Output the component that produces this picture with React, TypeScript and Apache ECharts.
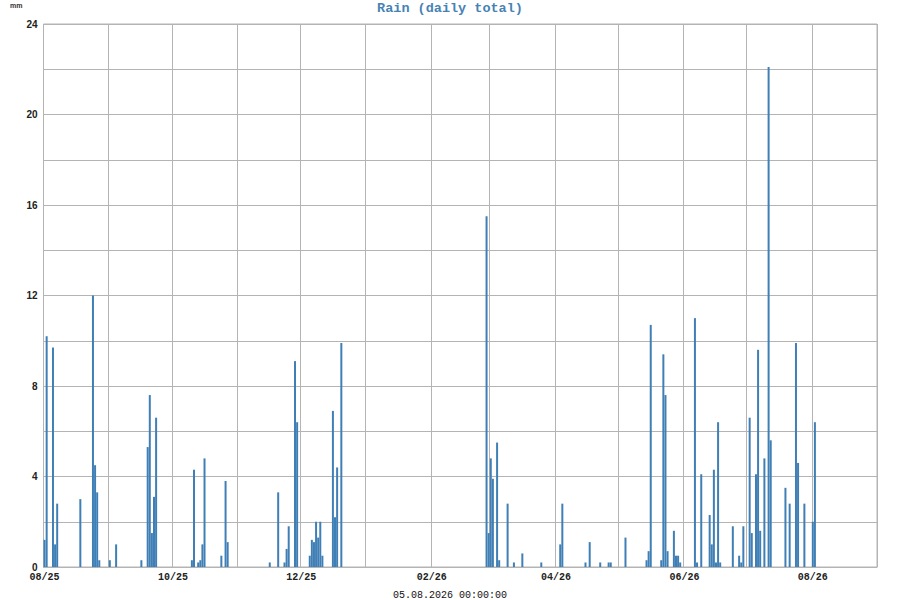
import React, { useEffect, useRef } from 'react';
import * as echarts from 'echarts';

// days with rain (mm), everything else is 0
const rainDays = [
  '2025-08-01', '2025-08-02', '2025-08-05', '2025-08-06', '2025-08-07', '2025-08-18',
  '2025-08-24', '2025-08-25', '2025-08-26', '2025-08-27', '2025-09-01', '2025-09-04',
  '2025-09-16', '2025-09-19', '2025-09-20', '2025-09-21', '2025-09-22', '2025-09-23',
  '2025-10-10', '2025-10-11', '2025-10-13', '2025-10-14', '2025-10-15', '2025-10-16',
  '2025-10-24', '2025-10-26', '2025-10-27', '2025-11-16', '2025-11-20', '2025-11-23',
  '2025-11-24', '2025-11-25', '2025-11-28', '2025-11-29', '2025-12-05', '2025-12-06',
  '2025-12-07', '2025-12-08', '2025-12-09', '2025-12-10', '2025-12-11', '2025-12-16',
  '2025-12-17', '2025-12-18', '2025-12-20', '2026-02-27', '2026-02-28', '2026-03-01',
  '2026-03-02', '2026-03-04', '2026-03-05', '2026-03-09', '2026-03-12', '2026-03-16',
  '2026-03-25', '2026-04-03', '2026-04-04', '2026-04-15', '2026-04-17', '2026-04-22',
  '2026-04-26', '2026-04-27', '2026-05-04', '2026-05-14', '2026-05-15', '2026-05-16',
  '2026-05-21', '2026-05-22', '2026-05-23', '2026-05-24', '2026-05-27', '2026-05-28',
  '2026-05-29', '2026-05-30', '2026-06-06', '2026-06-07', '2026-06-09', '2026-06-13',
  '2026-06-14', '2026-06-15', '2026-06-16', '2026-06-17', '2026-06-18', '2026-06-24',
  '2026-06-27', '2026-06-28', '2026-06-29', '2026-07-02', '2026-07-03', '2026-07-05',
  '2026-07-06', '2026-07-07', '2026-07-09', '2026-07-11', '2026-07-12', '2026-07-19',
  '2026-07-21', '2026-07-24', '2026-07-25', '2026-07-28', '2026-08-01', '2026-08-02',
];
const rainMm = [
  1.2, 10.2, 9.7, 1.0, 2.8, 3.0,
  12.0, 4.5, 3.3, 0.3, 0.3, 1.0,
  0.3, 5.3, 7.6, 1.5, 3.1, 6.6,
  0.3, 4.3, 0.2, 0.3, 1.0, 4.8,
  0.5, 3.8, 1.1, 0.2, 3.3, 0.2,
  0.8, 1.8, 9.1, 6.4, 0.5, 1.2,
  1.1, 2.0, 1.3, 2.0, 0.5, 6.9,
  2.2, 4.4, 9.9, 15.5, 1.5, 4.8,
  3.9, 5.5, 0.3, 2.8, 0.2, 0.6,
  0.2, 1.0, 2.8, 0.2, 1.1, 0.2,
  0.2, 0.2, 1.3, 0.3, 0.7, 10.7,
  0.3, 9.4, 7.6, 0.7, 1.6, 0.5,
  0.5, 0.2, 11.0, 0.2, 4.1, 2.3,
  1.0, 4.3, 0.2, 6.4, 0.2, 1.8,
  0.5, 0.2, 1.8, 6.6, 1.5, 4.1,
  9.6, 1.6, 4.8, 22.1, 5.6, 3.5,
  2.8, 9.9, 4.6, 2.8, 2.0, 6.4,
];
const firstDay = '2025-08-01';
const dayCount = 396; // 1 Aug 2025 .. 31 Aug 2026
const yTicks = [0, 4, 8, 12, 16, 20, 24];
const stamp = '05.08.2026 00:00:00';

export default function App() {
  const ref = useRef<HTMLDivElement>(null);
  useEffect(() => {
    if (!ref.current) return;
    const chart = echarts.init(ref.current, null, { renderer: 'svg' });

    const start = Date.parse(firstDay + 'T00:00:00Z');
    const days: string[] = [];
    for (let i = 0; i < dayCount; i++) {
      days.push(new Date(start + i * 86400000).toISOString().slice(0, 10));
    }
    const lookup: Record<string, number> = {};
    rainDays.forEach((d, i) => { lookup[d] = rainMm[i]; });
    const values = days.map(d => lookup[d] ?? 0);

    const isMonthStart = (v: string) => v.endsWith('-01');
    const gridColor = '#b4b4b4';

    chart.setOption({
      animation: false,
      backgroundColor: '#fff',
      title: {
        text: 'Rain (daily total)',
        left: 'center',
        top: 1,
        padding: 0,
        textStyle: { fontFamily: 'Liberation Mono', fontWeight: 'bold', fontSize: 13.5, color: '#4682b4' },
      },
      grid: { left: 43.5, right: 23, top: 24, bottom: 33, show: true, borderColor: gridColor, borderWidth: 1 },
      xAxis: {
        type: 'category',
        data: days,
        boundaryGap: true,
        axisLine: { show: true, lineStyle: { color: gridColor } },
        axisTick: { show: false },
        splitLine: { show: true, interval: (_i: number, v: string) => isMonthStart(v), lineStyle: { color: gridColor, width: 1 } },
        axisLabel: {
          interval: (_i: number, v: string) => isMonthStart(v) && Number(v.slice(5, 7)) % 2 === 0,
          formatter: (v: string) => v.slice(5, 7) + '/' + v.slice(2, 4),
          fontFamily: 'Liberation Mono',
          fontWeight: 'bold',
          fontSize: 10,
          lineHeight: 10,
          color: '#222',
          margin: 5,
        },
      },
      yAxis: {
        type: 'value',
        min: 0,
        max: 24,
        interval: 2,
        axisLine: { show: false },
        axisTick: { show: false },
        splitLine: { show: true, lineStyle: { color: gridColor, width: 1 } },
        axisLabel: {
          formatter: (v: number) => (yTicks.includes(v) ? String(v) : ''),
          fontFamily: 'Liberation Sans',
          fontWeight: 'bold',
          fontSize: 10,
          lineHeight: 8,
          padding: [0, 0, 3, 0],
          color: '#222',
          margin: 6,
        },
      },
      graphic: [
        {
          type: 'text', left: 10, top: 2,
          style: { text: 'mm', font: 'bold 7px "Liberation Sans"', fill: '#333' },
        },
        {
          type: 'text', x: 450, y: 595,
          style: { text: stamp, font: '10px "Liberation Mono"', fill: '#111', textAlign: 'center', textVerticalAlign: 'middle' },
        },
      ],
      series: [
        {
          type: 'bar',
          data: values,
          barCategoryGap: '5%',
          itemStyle: { color: '#3f7fb5' },
        },
      ],
    });
    return () => { chart.dispose(); };
  }, []);
  return <div ref={ref} style={{ position: 'fixed', left: 0, top: 0, width: 900, height: 600 }} />;
}
